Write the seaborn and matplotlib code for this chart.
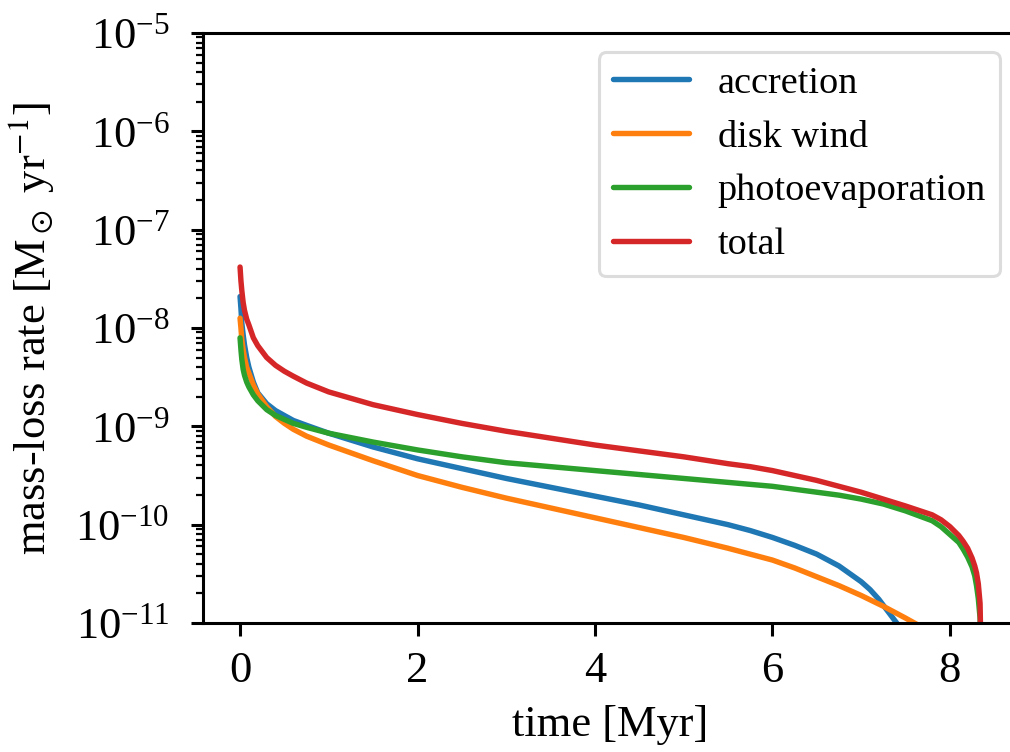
import numpy as np
import pandas as pd
import matplotlib
matplotlib.use("Agg")
import matplotlib.pyplot as plt
from matplotlib.ticker import LogLocator
import seaborn as sns

# ---- data (log10 of mass-loss rate in Msun/yr) ----
t_accretion = [0, 0.01, 0.02, 0.035, 0.05, 0.075, 0.1, 0.15, 0.2, 0.3, 0.4, 0.5, 0.6,
               0.75, 1.0, 1.5, 2, 2.5, 3, 3.5, 4, 4.5, 5, 5.5, 5.75, 6, 6.25, 6.5,
               6.75, 7.0, 7.1, 7.2, 7.3, 7.4, 7.45]
log_accretion = [-7.68, -7.80, -7.95, -8.07, -8.17, -8.30, -8.40, -8.55, -8.66, -8.77,
                 -8.84, -8.89, -8.94, -8.99, -9.07, -9.21, -9.33, -9.43, -9.53, -9.62,
                 -9.71, -9.80, -9.90, -10.00, -10.06, -10.13, -10.21, -10.30, -10.42,
                 -10.58, -10.66, -10.76, -10.88, -11.0, -11.1]

t_wind = [0, 0.01, 0.02, 0.035, 0.05, 0.075, 0.1, 0.15, 0.2, 0.3, 0.4, 0.5, 0.6, 0.75,
          1.0, 1.5, 2, 2.5, 3, 3.5, 4, 4.5, 5, 5.5, 5.75, 6, 6.25, 6.5, 6.75, 7,
          7.25, 7.5, 7.7]
log_wind = [-7.90, -8.00, -8.12, -8.22, -8.30, -8.40, -8.46, -8.58, -8.67, -8.80,
            -8.90, -8.97, -9.03, -9.10, -9.19, -9.35, -9.50, -9.62, -9.73, -9.83,
            -9.93, -10.03, -10.13, -10.24, -10.30, -10.36, -10.44, -10.53, -10.62,
            -10.72, -10.83, -10.95, -11.05]

t_photo = [0, 0.01, 0.02, 0.035, 0.05, 0.075, 0.1, 0.15, 0.2, 0.3, 0.4, 0.5, 0.6, 0.75,
           1.0, 1.5, 2, 2.5, 3, 3.5, 4, 4.5, 5, 5.5, 6, 6.25, 6.5, 6.75, 7, 7.25,
           7.5, 7.8, 7.9, 8.0, 8.1, 8.15, 8.2, 8.25, 8.28, 8.3, 8.32, 8.34, 8.35]
log_photo = [-8.10, -8.22, -8.32, -8.42, -8.48, -8.55, -8.60, -8.68, -8.74, -8.83,
             -8.89, -8.93, -8.97, -9.01, -9.07, -9.16, -9.24, -9.31, -9.37, -9.41,
             -9.45, -9.49, -9.53, -9.57, -9.61, -9.64, -9.67, -9.70, -9.74, -9.79,
             -9.86, -9.96, -10.02, -10.10, -10.18, -10.25, -10.33, -10.43, -10.52,
             -10.62, -10.75, -10.95, -11.3]

t_total = [0, 0.01, 0.02, 0.035, 0.05, 0.075, 0.1, 0.15, 0.2, 0.3, 0.4, 0.5, 0.6, 0.75,
           1.0, 1.5, 2, 2.5, 3, 3.5, 4, 4.5, 5, 5.5, 5.75, 6, 6.25, 6.5, 6.75, 7,
           7.25, 7.5, 7.8, 7.9, 8.0, 8.1, 8.15, 8.2, 8.25, 8.28, 8.3, 8.32, 8.34, 8.35]
log_total = [-7.38, -7.52, -7.62, -7.74, -7.82, -7.91, -7.97, -8.10, -8.18, -8.30,
             -8.38, -8.44, -8.49, -8.56, -8.65, -8.78, -8.88, -8.97, -9.05, -9.12,
             -9.19, -9.25, -9.31, -9.38, -9.41, -9.45, -9.50, -9.55, -9.61, -9.67,
             -9.74, -9.81, -9.90, -9.95, -10.02, -10.11, -10.17, -10.24, -10.34,
             -10.42, -10.49, -10.60, -10.80, -11.3]

labels = ["accretion", "disk wind", "photoevaporation", "total"]
colors = ["#1f77b4", "#ff7f0e", "#2ca02c", "#d62728"]
series = [(t_accretion, log_accretion), (t_wind, log_wind),
          (t_photo, log_photo), (t_total, log_total)]

sns.set_style("ticks")
plt.rcParams["font.family"] = "serif"
plt.rcParams["font.serif"] = ["Liberation Serif", "DejaVu Serif"]
plt.rcParams["mathtext.fontset"] = "stix"
for key in ["text.color", "axes.labelcolor", "xtick.color", "ytick.color",
            "axes.edgecolor"]:
    plt.rcParams[key] = "black"

fig = plt.figure(figsize=(10.1, 7.52), dpi=100)
ax = fig.add_axes([203 / 1010, 1 - 623 / 752, (1018 - 203) / 1010, (623 - 33) / 752])

for (t, lg), lab, col in zip(series, labels, colors):
    df = pd.DataFrame({"t": t, "rate": 10.0 ** np.array(lg)})
    sns.lineplot(data=df, x="t", y="rate", ax=ax, color=col, lw=3.9, label=lab)

ax.set_yscale("log")
ax.set_ylim(1e-11, 1e-5)
ax.set_xlim(-0.4175, 8.7675)
ax.set_xticks([0, 2, 4, 6, 8])
ax.yaxis.set_major_locator(LogLocator(base=10, numticks=20))
ax.yaxis.set_minor_locator(LogLocator(base=10, subs=np.arange(2, 10), numticks=100))

ax.set_xlabel("time [Myr]", fontsize=32, labelpad=10)
ax.set_ylabel(r"mass-loss rate [M$_\odot$ yr$^{-1}$]", fontsize=32, labelpad=14)

for s in ax.spines.values():
    s.set_linewidth(2.2)
    s.set_color("black")
ax.tick_params(axis="both", which="major", labelsize=32, length=9, width=2.2,
               direction="out", colors="black")
ax.tick_params(axis="x", which="major", pad=11)
ax.tick_params(axis="y", which="major", pad=15)
ax.tick_params(axis="y", which="minor", length=5, width=1.6, direction="out",
               colors="black")

leg = ax.legend(loc="upper right", fontsize=27.5, frameon=True, fancybox=True,
                borderpad=0.37, handlelength=2.0, handletextpad=0.74,
                borderaxespad=0, bbox_to_anchor=(0.978, 0.968))
leg.get_frame().set_edgecolor("#d4d4d4")
leg.get_frame().set_linewidth(2.2)
for line in leg.get_lines():
    line.set_linewidth(3.9)

fig.savefig("out.png", dpi=100)
